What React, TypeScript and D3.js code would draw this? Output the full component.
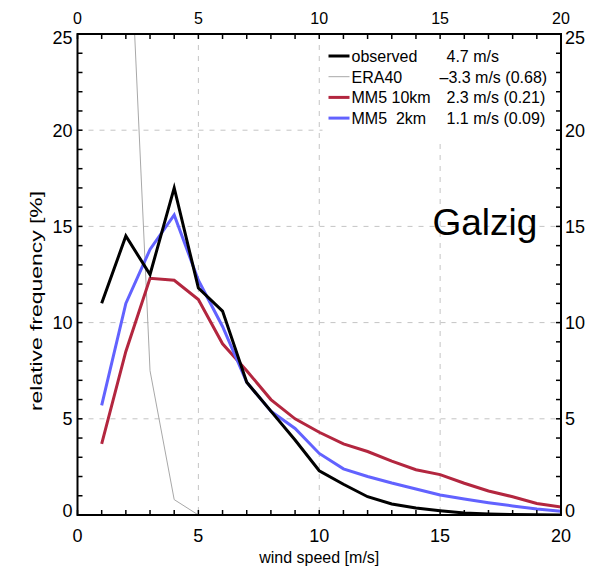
import React from "react";
import { scaleLinear, line, range } from "d3";

const width = 592;
const height = 568;
const margin = { top: 34, right: 31, bottom: 53, left: 77.5 };
const innerWidth = width - margin.left - margin.right;
const innerHeight = height - margin.top - margin.bottom;

const font = "'Liberation Sans', Arial, sans-serif";

// wind speed classes [m/s]
const windSpeed = [1, 2, 3, 4, 5, 6, 7, 8, 9, 10, 11, 12, 13, 14, 15, 16, 17, 18, 19, 20];
const observed = [11.0, 14.5, 12.5, 17.0, 11.8, 10.6, 6.9, 5.4, 3.9, 2.3, 1.6, 0.95, 0.57, 0.36, 0.22, 0.1, 0.05, 0.02, 0.01, 0.0];
const mm5_10km = [3.7, 8.5, 12.3, 12.2, 11.2, 8.9, 7.5, 6.0, 5.0, 4.3, 3.7, 3.3, 2.8, 2.35, 2.1, 1.65, 1.25, 0.95, 0.6, 0.42];
const mm5_2km = [5.7, 11.0, 13.8, 15.6, 12.2, 9.8, 6.9, 5.4, 4.5, 3.2, 2.4, 2.0, 1.66, 1.35, 1.04, 0.83, 0.64, 0.47, 0.31, 0.2];
// ERA40 runs off the top of the plot below 2.4 m/s
const eraSpeed = [2, 3, 4, 5];
const era40 = [35, 7.5, 0.8, 0.0];

const legendNames = ["observed", "ERA40", "MM5 10km", "MM5  2km"];
const legendStats = ["4.7 m/s", "\u20133.3 m/s (0.68)", "2.3 m/s (0.21)", "1.1 m/s (0.09)"];
const colors = ["#000000", "#a8a8a8", "#b3263f", "#6262ff"];
const strokeWidths = [3, 1, 3, 3];

const xTicks = [0, 5, 10, 15, 20];
const yTicks = [0, 5, 10, 15, 20, 25];

const xScale = scaleLinear().domain([0, 20]).range([0, innerWidth]);
const yScale = scaleLinear().domain([0, 25]).range([innerHeight, 0]);

const makeLine = (xs: number[], ys: number[]) =>
  line<number>()
    .x((_, i) => xScale(xs[i]))
    .y((d) => yScale(d))(ys) || "";

const series = [
  makeLine(windSpeed, observed),
  makeLine(eraSpeed, era40),
  makeLine(windSpeed, mm5_10km),
  makeLine(windSpeed, mm5_2km),
];

export default function App() {
  const minorX = range(0, 21);
  const minorY = range(0, 26);
  const tickLen = 5;
  return (
    <svg
      width={width}
      height={height}
      style={{ position: "absolute", left: 0, top: 0, background: "#fff", fontFamily: font }}
    >
      <defs>
        <clipPath id="plot">
          <rect x={0} y={0} width={innerWidth} height={innerHeight} />
        </clipPath>
      </defs>
      <g transform={`translate(${margin.left},${margin.top})`}>
        {/* grid */}
        {xTicks.slice(1, -1).map((t) => (
          <line
            key={"gx" + t}
            x1={xScale(t)}
            x2={xScale(t)}
            y1={0}
            y2={innerHeight}
            stroke="#c4c4c4"
            strokeDasharray="5,6"
          />
        ))}
        {yTicks.slice(1, -1).map((t) => (
          <line
            key={"gy" + t}
            x1={0}
            x2={innerWidth}
            y1={yScale(t)}
            y2={yScale(t)}
            stroke="#c4c4c4"
            strokeDasharray="5,6"
          />
        ))}

        {/* legend background hides the grid */}
        <rect x={245} y={1} width={236} height={106} fill="#fff" />

        {/* curves, drawn back to front */}
        <g clipPath="url(#plot)" fill="none" strokeLinejoin="miter">
          {[1, 2, 3, 0].map((i) => (
            <path key={i} d={series[i]} stroke={colors[i]} strokeWidth={strokeWidths[i]} />
          ))}
        </g>

        {/* ticks on all four sides, pointing inward */}
        {minorX.map((t) => (
          <g key={"tx" + t} stroke="#000" strokeWidth={1.5}>
            <line x1={xScale(t)} x2={xScale(t)} y1={innerHeight} y2={innerHeight - tickLen} />
            <line x1={xScale(t)} x2={xScale(t)} y1={0} y2={tickLen} />
          </g>
        ))}
        {minorY.map((t) => (
          <g key={"ty" + t} stroke="#000" strokeWidth={1.5}>
            <line x1={0} x2={tickLen} y1={yScale(t)} y2={yScale(t)} />
            <line x1={innerWidth} x2={innerWidth - tickLen} y1={yScale(t)} y2={yScale(t)} />
          </g>
        ))}
        <rect x={0} y={0} width={innerWidth} height={innerHeight} fill="none" stroke="#000" strokeWidth={2} />

        {/* tick labels */}
        {xTicks.map((t) => (
          <g key={"lx" + t} textAnchor="middle" fill="#000">
            <text x={xScale(t)} y={innerHeight + 27} fontSize={18}>
              {t}
            </text>
            <text x={xScale(t)} y={-10} fontSize={16}>
              {t}
            </text>
          </g>
        ))}
        {yTicks.map((t) => {
          const shift = t === 25 ? 4 : t === 0 ? -4 : 0;
          return (
            <g key={"ly" + t} fontSize={18} fill="#000">
              <text x={-5} y={yScale(t) + shift} dy="0.35em" textAnchor="end">
                {t}
              </text>
              <text x={innerWidth + 4} y={yScale(t) + shift} dy="0.35em" textAnchor="start">
                {t}
              </text>
            </g>
          );
        })}

        {/* axis titles */}
        <text x={xScale(10)} y={innerHeight + 48} textAnchor="middle" fontSize={16}>
          wind speed [m/s]
        </text>
        <text
          transform={`translate(${-36},${267}) rotate(-90)`}
          textAnchor="middle"
          fontSize={16}
          textLength={220}
          lengthAdjust="spacingAndGlyphs"
        >
          relative frequency [%]
        </text>

        {/* legend */}
        {legendNames.map((name, i) => {
          const y = 22 + i * 20.7;
          return (
            <g key={name}>
              <line x1={251} x2={272} y1={y} y2={y} stroke={colors[i]} strokeWidth={strokeWidths[i]} />
              <text x={274} y={y + 6} fontSize={16} style={{ whiteSpace: "pre" }}>
                {name}
              </text>
              <text
                x={legendStats[i].startsWith("\u2013") ? 362 : 369}
                y={y + 6}
                fontSize={16}
              >
                {legendStats[i]}
              </text>
            </g>
          );
        })}

        <text x={355} y={201} fontSize={37}>
          Galzig
        </text>
      </g>
    </svg>
  );
}
